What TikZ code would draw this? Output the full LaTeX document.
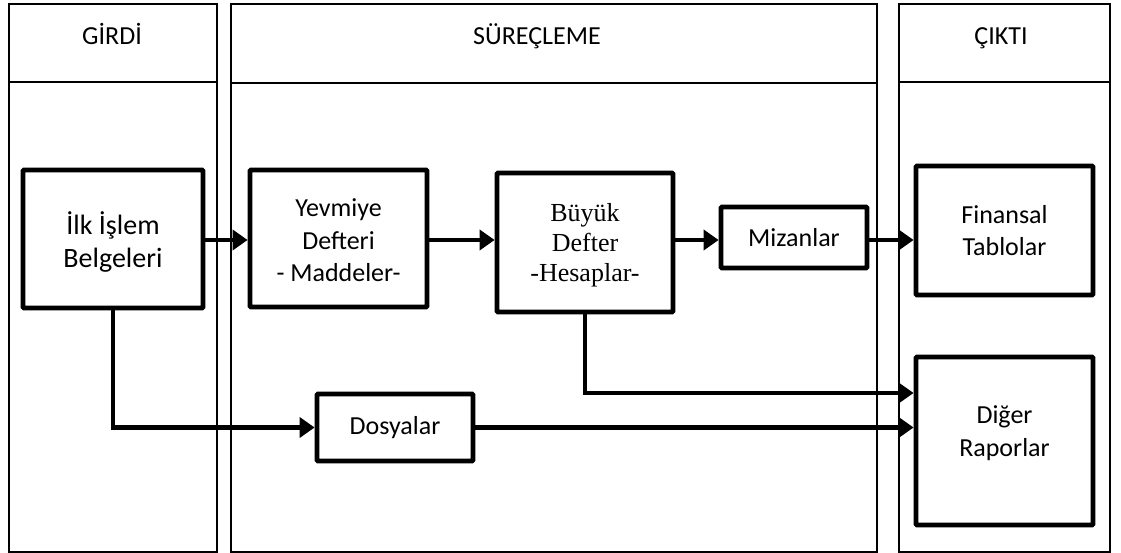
\documentclass[tikz,border=0pt]{standalone}
\usepackage{fontspec}
\setmainfont{Carlito}
\newfontfamily\timesfont{Liberation Serif}
\usetikzlibrary{arrows.meta,calc}

\begin{document}
\begin{tikzpicture}[x=1pt,y=-1pt,
  lane/.style={draw, line width=2pt},
  box/.style={draw, line width=4.8pt, rectangle, rounded corners=1pt, inner sep=0pt},
  txt/.style={align=center, inner sep=0pt, font=\fontsize{26}{32.5}\selectfont},
  flow/.style={line width=4.6pt, -{Triangle[length=15pt,width=20pt]}},
  head/.style={font=\fontsize{26}{32}\selectfont, anchor=base}
]
\useasboundingbox (0,0) rectangle (1121,553);
\fill[white] (0,0) rectangle (1121,553);

% three lanes with their header rows
\draw[lane] (9,4) rectangle (217,552);
\draw[lane] (9,82) -- (217,82);
\draw[lane] (231,4) rectangle (877,552);
\draw[lane] (231,83) -- (877,83);
\draw[lane] (899,4) rectangle (1110,552);
\draw[lane] (899,82) -- (1110,82);

\node[head] (girdi) at (112,45) {GİRDİ};
\node[head] (surec) at (537,45) {SÜREÇLEME};
\node[head] (cikti) at (1001,45) {ÇIKTI};

% process boxes
\node[box, minimum width=180pt, minimum height=138pt] (ilk) at (113,239) {};
\node[box, minimum width=177pt, minimum height=137pt] (yev) at (338.5,238.5) {};
\node[box, minimum width=176pt, minimum height=139pt] (buyuk) at (585,242.5) {};
\node[box, minimum width=146pt, minimum height=61pt] (miz) at (794,237.5) {};
\node[box, minimum width=177pt, minimum height=129pt] (fin) at (1004.5,230.5) {};
\node[box, minimum width=177pt, minimum height=168pt] (dig) at (1004.5,441) {};
\node[box, minimum width=156pt, minimum height=67pt] (dos) at (395,427.5) {};

% box texts
\node[txt, font=\fontsize{28}{33}\selectfont] (ilkt) at ($(ilk.center)+(0,3)$) {İlk İşlem\\Belgeleri};
\node[txt] (yevt) at ($(yev.center)+(0,2)$) {Yevmiye\\Defteri\\- Maddeler-};
\node[txt, font=\timesfont\fontsize{26}{30}\selectfont] (buyukt) at ($(buyuk.center)+(0,3)$) {Büyük\\Defter\\-Hesaplar-};
\node[txt] (mizt) at (miz.center) {Mizanlar};
\node[txt] (fint) at (fin.center) {Finansal\\Tablolar};
\node[txt] (digt) at ($(dig.center)+(0,-8)$) {Diğer\\Raporlar};
\node[txt] (dost) at (dos.center) {Dosyalar};

% connectors
\coordinate (row) at (0,240);
\coordinate (low) at (0,393);
\draw[flow] (ilk.east |- row) -- (yev.west |- row);
\draw[flow] (yev.east |- row) -- (buyuk.west |- row);
\draw[flow] (buyuk.east |- row) -- (miz.west |- row);
\draw[flow] (miz.east |- row) -- (fin.west |- row);
\draw[flow] (ilk.south) |- (dos.west);
\draw[flow] (buyuk.south) |- (dig.west |- low);
\draw[flow] (dos.east) -- (dos.east -| dig.west);
\end{tikzpicture}
\end{document}
